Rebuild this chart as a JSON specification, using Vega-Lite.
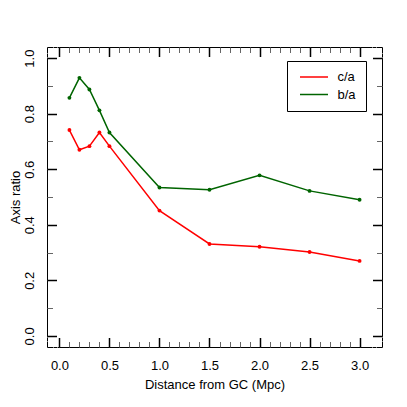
{
  "$schema": "https://vega.github.io/schema/vega-lite/v6.json",
  "width": 335,
  "height": 300,
  "autosize": {"type": "none"},
  "padding": {"left": 47, "top": 47, "right": 25, "bottom": 60},
  "background": "white",
  "config": {
    "view": {"stroke": "black", "strokeWidth": 1},
    "axis": {
      "grid": false,
      "domain": true, "domainColor": "white", "domainWidth": 1,
      "labelFont": "Liberation Sans", "labelFontSize": 13, "labelColor": "black",
      "titleFont": "Liberation Sans", "titleFontSize": 13, "titleFontWeight": "normal", "titleColor": "black",
      "labelFlush": false, "labelOverlap": false
    }
  },
  "data": {
    "values": [
      {"d": 0.1, "ratio": 0.741, "series": "c/a"},
      {"d": 0.2, "ratio": 0.670, "series": "c/a"},
      {"d": 0.3, "ratio": 0.683, "series": "c/a"},
      {"d": 0.4, "ratio": 0.732, "series": "c/a"},
      {"d": 0.5, "ratio": 0.683, "series": "c/a"},
      {"d": 1.0, "ratio": 0.451, "series": "c/a"},
      {"d": 1.5, "ratio": 0.331, "series": "c/a"},
      {"d": 2.0, "ratio": 0.321, "series": "c/a"},
      {"d": 2.5, "ratio": 0.302, "series": "c/a"},
      {"d": 3.0, "ratio": 0.270, "series": "c/a"},
      {"d": 0.1, "ratio": 0.857, "series": "b/a"},
      {"d": 0.2, "ratio": 0.929, "series": "b/a"},
      {"d": 0.3, "ratio": 0.887, "series": "b/a"},
      {"d": 0.4, "ratio": 0.812, "series": "b/a"},
      {"d": 0.5, "ratio": 0.732, "series": "b/a"},
      {"d": 1.0, "ratio": 0.534, "series": "b/a"},
      {"d": 1.5, "ratio": 0.526, "series": "b/a"},
      {"d": 2.0, "ratio": 0.578, "series": "b/a"},
      {"d": 2.5, "ratio": 0.522, "series": "b/a"},
      {"d": 3.0, "ratio": 0.490, "series": "b/a"}
    ]
  },
  "resolve": {
    "scale": {"x": "shared", "y": "shared", "color": "shared"},
    "axis": {"x": "independent", "y": "independent"}
  },
  "layer": [
    {
      "transform": [{"filter": "datum.series === 'c/a'"}],
      "mark": {"type": "line", "strokeWidth": 1.5},
      "encoding": {
        "x": {"field": "d", "type": "quantitative",
          "scale": {"domain": [-0.124, 3.224], "nice": false, "zero": false},
          "axis": {"orient": "bottom", "values": [0, 0.5, 1, 1.5, 2, 2.5, 3], "format": ".1f", "offset": -10, "tickSize": 10, "zindex": 1,
            "tickColor": "black", "tickWidth": 1.5,
            "labelPadding": 22, "labelBaseline": "alphabetic", "labelAngle": 0,
            "title": "Distance from GC (Mpc)", "titleY": 51, "titleBaseline": "alphabetic"}},
        "y": {"field": "ratio", "type": "quantitative",
          "scale": {"domain": [-0.04, 1.04], "nice": false, "zero": false},
          "axis": {"orient": "left", "values": [0, 0.2, 0.4, 0.6, 0.8, 1.0], "format": ".1f", "offset": -10, "tickSize": 10, "zindex": 1,
            "tickColor": "black", "tickWidth": 1.5,
            "labelPadding": 14, "labelAngle": -90, "labelAlign": "center", "labelBaseline": "alphabetic",
            "title": "Axis ratio", "titleX": -38, "titleBaseline": "alphabetic"}},
        "color": {"field": "series", "type": "nominal",
          "scale": {"domain": ["c/a", "b/a"], "range": ["#ff0000", "#006400"]},
          "legend": {"title": null, "orient": "none", "legendX": 240, "legendY": 14, "direction": "vertical",
            "fillColor": "white", "strokeColor": "black", "padding": 9.5, "cornerRadius": 0,
            "symbolType": "M-2.8,0H2.8", "symbolSize": 100, "symbolStrokeWidth": 1.5, "symbolOffset": 11,
            "labelFont": "Liberation Sans", "labelFontSize": 13, "labelColor": "black", "labelOffset": 17, "rowPadding": 3.5,
            "labelExpr": "datum.label + '\u00a0'"}}
      }
    },
    {
      "transform": [{"filter": "datum.series === 'c/a'"}],
      "mark": {"type": "point", "filled": true, "size": 15, "opacity": 1, "color": "#ff0000"},
      "encoding": {
        "x": {"field": "d", "type": "quantitative",
          "axis": {"orient": "bottom", "values": [0, 0.1, 0.2, 0.3, 0.4, 0.5, 0.6, 0.7, 0.8, 0.9, 1.0, 1.1, 1.2, 1.3, 1.4, 1.5, 1.6, 1.7, 1.8, 1.9, 2.0, 2.1, 2.2, 2.3, 2.4, 2.5, 2.6, 2.7, 2.8, 2.9, 3.0],
            "offset": -6, "tickSize": 6, "zindex": 0, "tickColor": "#666666", "labels": false, "title": null}},
        "y": {"field": "ratio", "type": "quantitative",
          "axis": {"orient": "left", "values": [0, 0.1, 0.2, 0.3, 0.4, 0.5, 0.6, 0.7, 0.8, 0.9, 1.0],
            "offset": -6, "tickSize": 6, "zindex": 0, "tickColor": "#666666", "labels": false, "title": null}}
      }
    },
    {
      "transform": [{"filter": "datum.series === 'b/a'"}],
      "mark": {"type": "line", "strokeWidth": 1.5},
      "encoding": {
        "x": {"field": "d", "type": "quantitative",
          "axis": {"orient": "top", "values": [0, 0.5, 1, 1.5, 2, 2.5, 3], "offset": -10, "tickSize": 10, "zindex": 1,
            "tickColor": "black", "tickWidth": 1.5, "labels": false, "title": null}},
        "y": {"field": "ratio", "type": "quantitative",
          "axis": {"orient": "right", "values": [0, 0.2, 0.4, 0.6, 0.8, 1.0], "offset": -10, "tickSize": 10, "zindex": 1,
            "tickColor": "black", "tickWidth": 1.5, "labels": false, "title": null}},
        "color": {"field": "series", "type": "nominal"}
      }
    },
    {
      "transform": [{"filter": "datum.series === 'b/a'"}],
      "mark": {"type": "point", "filled": true, "size": 15, "opacity": 1, "color": "#006400"},
      "encoding": {
        "x": {"field": "d", "type": "quantitative",
          "axis": {"orient": "top", "values": [0, 0.1, 0.2, 0.3, 0.4, 0.5, 0.6, 0.7, 0.8, 0.9, 1.0, 1.1, 1.2, 1.3, 1.4, 1.5, 1.6, 1.7, 1.8, 1.9, 2.0, 2.1, 2.2, 2.3, 2.4, 2.5, 2.6, 2.7, 2.8, 2.9, 3.0],
            "offset": -6, "tickSize": 6, "zindex": 0, "tickColor": "#666666", "labels": false, "title": null}},
        "y": {"field": "ratio", "type": "quantitative",
          "axis": {"orient": "right", "values": [0, 0.1, 0.2, 0.3, 0.4, 0.5, 0.6, 0.7, 0.8, 0.9, 1.0],
            "offset": -6, "tickSize": 6, "zindex": 0, "tickColor": "#666666", "labels": false, "title": null}}
      }
    }
  ]
}
